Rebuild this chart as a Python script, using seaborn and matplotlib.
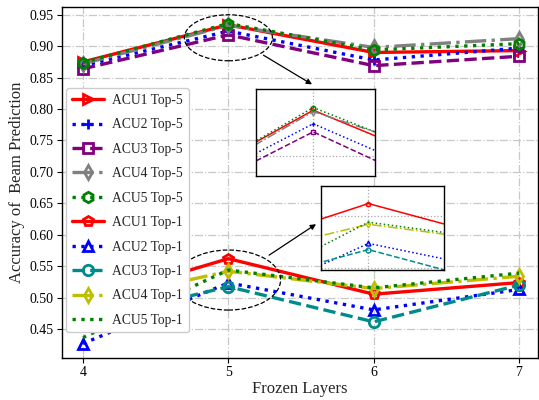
import numpy as np
import pandas as pd
import seaborn as sns
import matplotlib
matplotlib.use("Agg")
import matplotlib.pyplot as plt
from matplotlib.patches import Ellipse

# ---- data ----
layers = [4, 5, 6, 7]
series_names = ["ACU1 Top-5", "ACU2 Top-5", "ACU3 Top-5", "ACU4 Top-5", "ACU5 Top-5",
                "ACU1 Top-1", "ACU2 Top-1", "ACU3 Top-1", "ACU4 Top-1", "ACU5 Top-1"]
acu1_top5 = [0.875, 0.934, 0.890, 0.893]
acu2_top5 = [0.869, 0.924, 0.878, 0.897]
acu3_top5 = [0.864, 0.918, 0.869, 0.884]
acu4_top5 = [0.872, 0.933, 0.898, 0.912]
acu5_top5 = [0.874, 0.936, 0.894, 0.904]
acu1_top1 = [0.4935, 0.562, 0.5055, 0.524]
acu2_top1 = [0.427, 0.5235, 0.4805, 0.513]
acu3_top1 = [0.4615, 0.5175, 0.4615, 0.520]
acu4_top1 = [0.491, 0.542, 0.5145, 0.534]
acu5_top1 = [0.4365, 0.544, 0.5155, 0.539]
values = [acu1_top5, acu2_top5, acu3_top5, acu4_top5, acu5_top5,
          acu1_top1, acu2_top1, acu3_top1, acu4_top1, acu5_top1]

rows = []
for name, vals in zip(series_names, values):
    for x, v in zip(layers, vals):
        rows.append({"layer": x, "acc": v, "series": name})
df = pd.DataFrame(rows)

# ---- styles ----
styles = {
    "ACU1 Top-5": dict(color="red", ls="-", marker=">"),
    "ACU2 Top-5": dict(color="blue", ls=":", marker="+"),
    "ACU3 Top-5": dict(color="purple", ls="--", marker="s"),
    "ACU4 Top-5": dict(color="gray", ls="-.", marker="d"),
    "ACU5 Top-5": dict(color="green", ls=":", marker="h"),
    "ACU1 Top-1": dict(color="red", ls="-", marker="p"),
    "ACU2 Top-1": dict(color="blue", ls=":", marker="^"),
    "ACU3 Top-1": dict(color="darkcyan", ls="--", marker="o"),
    "ACU4 Top-1": dict(color="#bfbf00", ls="-.", marker="d"),
    "ACU5 Top-1": dict(color="green", ls=":", marker=None),
}

sns.set_style("ticks")
plt.rcParams["font.family"] = ["Liberation Serif", "DejaVu Serif"]
plt.rcParams["mathtext.fontset"] = "stix"

fig = plt.figure(figsize=(5.39, 4.0), dpi=100)
ax = fig.add_axes([0.115, 0.105, 0.883, 0.877])

def draw(axis, lw, ms, mew):
    for name in series_names:
        st = styles[name]
        sub = df[df["series"] == name]
        kw = dict(color=st["color"], linestyle=st["ls"], linewidth=lw)
        if st["marker"] is not None:
            kw.update(marker=st["marker"], markersize=ms, markerfacecolor="none",
                      markeredgecolor=st["color"], markeredgewidth=mew)
        sns.lineplot(data=sub, x="layer", y="acc", ax=axis,
                     label=name, legend=False, **kw)

draw(ax, 2.4, 7.5, 2.0)

ax.set_xlim(3.855, 7.13)
ax.set_ylim(0.404, 0.962)
ax.set_xticks(layers)
yt = np.round(np.arange(0.45, 0.951, 0.05), 2)
ax.set_yticks(yt)
ax.set_yticklabels([f"{v:.2f}" for v in yt])
ax.grid(True, color="#c8c8c8", linestyle="-.", linewidth=0.9)
ax.tick_params(labelsize=10, direction="out", length=3.5, width=0.8, colors="black", pad=2.5)
for s in ax.spines.values():
    s.set_color("black")
    s.set_linewidth(1.0)
ax.set_xlabel("Frozen Layers", fontsize=12, labelpad=1)
ax.set_ylabel("Accuracy of  Beam Prediction", fontsize=12, labelpad=3)

ax.legend(loc="upper left", bbox_to_anchor=(0.0, 0.78), fontsize=9.8,
          labelspacing=0.84, handlelength=2.4, handletextpad=0.6, borderaxespad=0.3,
          borderpad=0.4, frameon=True, framealpha=1.0, edgecolor="#cccccc", fancybox=True)

# ellipses
ax.add_patch(Ellipse((5.0, 0.9134), 0.606, 0.0732, fill=False, ls="--", lw=0.9, ec="black", zorder=5))
ax.add_patch(Ellipse((5.0, 0.528), 0.718, 0.0955, fill=False, ls="--", lw=0.9, ec="black", zorder=5))
ax.annotate("", xy=(5.592, 0.837), xytext=(5.225, 0.8879),
            arrowprops=dict(arrowstyle="-|>", color="black", lw=0.9, mutation_scale=8), zorder=6)
ax.annotate("", xy=(5.619, 0.6193), xytext=(5.264, 0.5651),
            arrowprops=dict(arrowstyle="-|>", color="black", lw=0.9, mutation_scale=8), zorder=6)

# insets
def make_inset(rect, xlim, ylim, yticks, names):
    ins = fig.add_axes(rect)
    for name in names:
        st = styles[name]
        sub = df[df["series"] == name]
        kw = dict(color=st["color"], linestyle=st["ls"], linewidth=1.1)
        if st["marker"] is not None:
            kw.update(marker=st["marker"], markersize=3.5, markerfacecolor="none",
                      markeredgecolor=st["color"], markeredgewidth=1.0)
        sns.lineplot(data=sub, x="layer", y="acc", ax=ins, legend=False, **kw)
    ins.set_xlim(*xlim)
    ins.set_ylim(*ylim)
    ins.set_xticks([5])
    ins.set_yticks(yticks)
    ins.grid(True, color="#aaaaaa", linestyle=":", linewidth=0.9)
    ins.tick_params(length=0, labelleft=False, labelbottom=False)
    ins.set_xlabel("")
    ins.set_ylabel("")
    for s in ins.spines.values():
        s.set_color("black")
        s.set_linewidth(1.0)
    ins.set_facecolor("white")
    return ins

make_inset([0.4744, 0.5608, 0.2214, 0.216], (4.6, 5.43), (0.8856, 0.9495), [0.90],
           series_names[:5])
make_inset([0.595, 0.325, 0.2293, 0.2108], (4.78, 5.35), (0.4978, 0.5793), [0.50, 0.55],
           series_names[5:])

fig.savefig("out.png", dpi=100)
